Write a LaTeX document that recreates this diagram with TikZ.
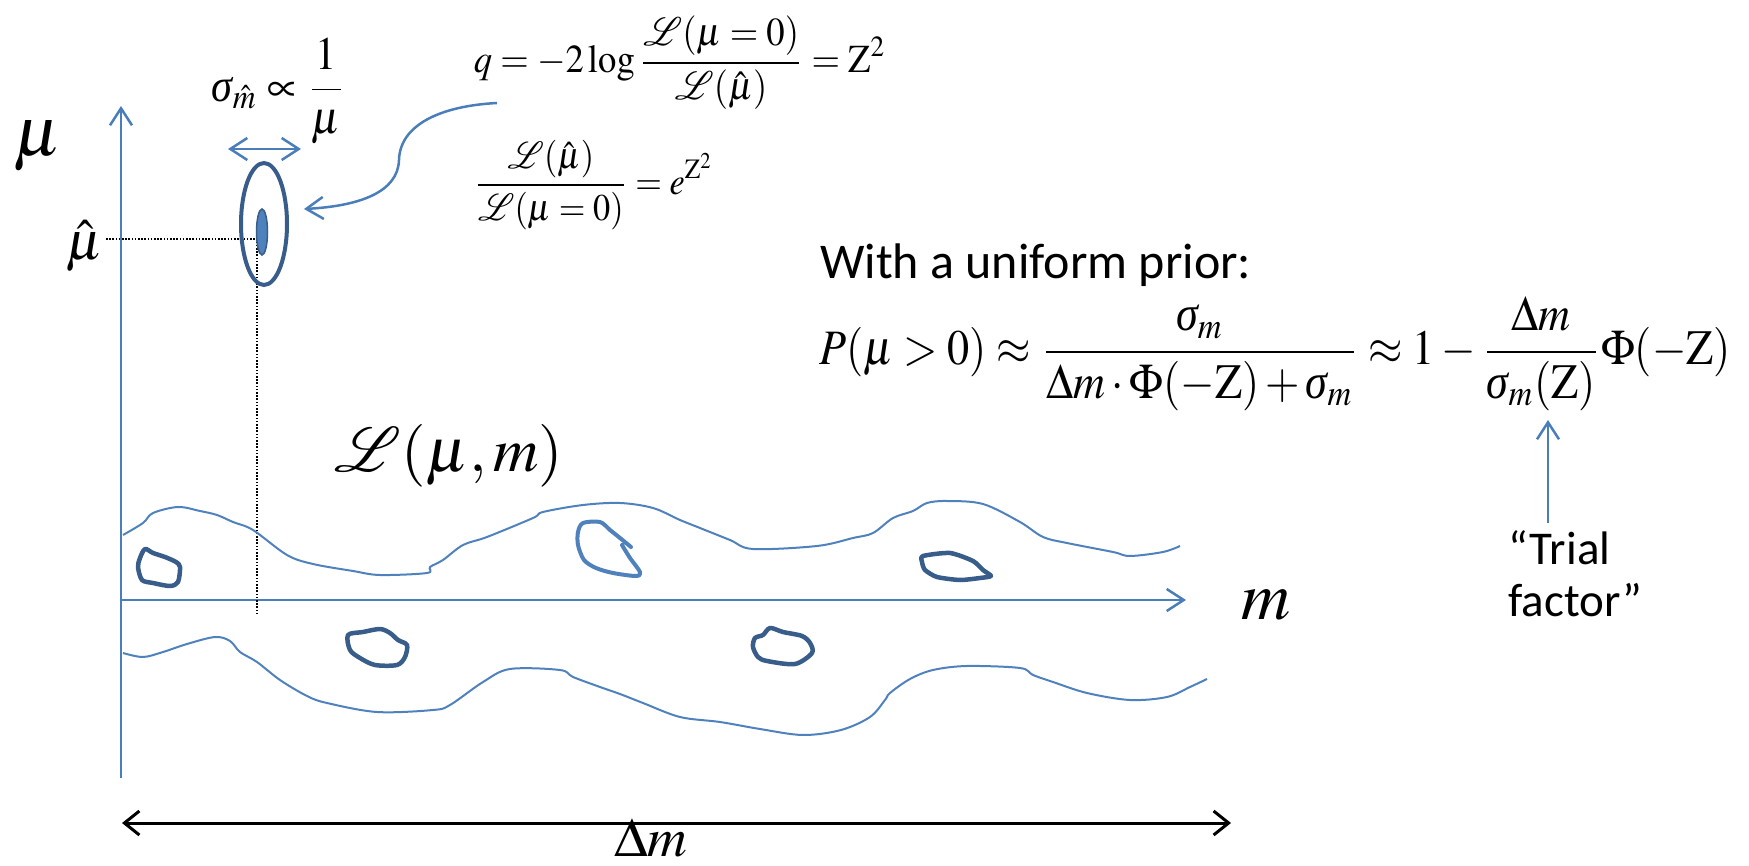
\documentclass[tikz,border=0pt]{standalone}
\usepackage{mathptmx}
\usepackage[no-math]{fontspec}
\newfontfamily\calibri{Carlito}
\newfontfamily\tnr{Liberation Serif}
\usetikzlibrary{arrows.meta}
\definecolor{lineblue}{HTML}{4A7EBB}
\definecolor{darkblue}{HTML}{385D8A}
\definecolor{fillblue}{HTML}{4F81BD}
\newcommand{\Lc}{\mathcal{L}}
\newcommand{\sg}{\mbox{\tnr\itshape σ}}
\begin{document}
\begin{tikzpicture}[x=1pt,y=-1pt,
  axis/.style={lineblue, line width=2.5pt},
  wave/.style={fillblue, line width=2pt, line join=round},
  blob/.style={darkblue, line width=4.5pt, line join=round},
  lblob/.style={fillblue, line width=4pt, line join=round, line cap=round},
  guide/.style={black, line width=1.6pt, dash pattern=on 1.6pt off 1.6pt},
  >={Straight Barb[length=17pt,width=22pt]},
  txt/.style={inner sep=0pt}]
\useasboundingbox (0,0) rectangle (1749,866);

% coordinates
\coordinate (O) at (121,600);
\coordinate (muTop) at (121,106);
\coordinate (muBot) at (121,778);
\coordinate (mEnd) at (1186,600);
\coordinate (dmL) at (122,823);
\coordinate (dmR) at (1231,823);
\coordinate (wL) at (228,149);
\coordinate (wR) at (301,149);
\coordinate (hatL) at (106,239);
\coordinate (hatC) at (257,239);
\coordinate (hatB) at (257,613);
\coordinate (cstart) at (497,103);
\coordinate (cend) at (304,209);
\coordinate (tfrom) at (1548,523);
\coordinate (tto) at (1548,420);

% axes
\draw[axis,->] (muBot) -- (muTop);
\draw[axis,->] (O) -- (mEnd);

% labels
\node (mulab) at (38,146) {\scalebox{7}{$\mu$}};
\node (muhat) at (85,246) {\scalebox{5.4}{$\hat\mu$}};
\node (mlab) at (1266,605) {\scalebox{6.8}{$m$}};
\node[inner sep=0pt] (dmlab) at (651,838) {\scalebox{5.5}{$\Delta m$}};
\node (Lmm) at (449,456) {\resizebox{228pt}{!}{$\Lc(\mu,m)$}};

% dotted guides
\draw[guide] (hatL) -- (hatC) -- (hatB);

% ellipses
\draw[darkblue, line width=4pt] (264,224) ellipse [x radius=23pt, y radius=61pt];
\filldraw[fill=fillblue, draw=darkblue, line width=1.5pt] (262,232) ellipse [x radius=5.5pt, y radius=23pt];

% width arrow
\draw[axis,<->] (wL) -- (wR);

% formulas
\node (sig) at (279,91) {\resizebox{134pt}{!}{\scalebox{1}[1.1]{$\displaystyle\sg_{\hat m}\propto\frac{1}{\mu}$}}};
\node (qeq) at (680,63) {\resizebox{412pt}{!}{\scalebox{1}[1.08]{$\displaystyle q=-2\log\frac{\Lc(\mu=0)}{\Lc(\hat\mu)}=\mathrm{Z}^2$}}};
\node (eeq) at (594,185) {\resizebox{240pt}{!}{\scalebox{1}[1.1]{$\displaystyle\frac{\Lc(\hat\mu)}{\Lc(\mu=0)}=e^{\mathrm{Z}^2}$}}};
\node[txt, anchor=base west, font=\calibri\fontsize{50}{60}\selectfont] (with) at (820,279) {With a uniform prior:};
\node (peq) at (1275,354) {\resizebox{911pt}{!}{\scalebox{1}[1.12]{$\displaystyle P(\mu>0)\approx\frac{\sg_m}{\Delta m\cdot\Phi(-\mathrm{Z})+\sg_m}\approx1-\frac{\Delta m}{\sg_m(\mathrm{Z})}\Phi(-\mathrm{Z})$}}};
\node[txt, anchor=north west, align=left, font=\calibri\fontsize{47}{52}\selectfont] (trial) at (1508,530) {“Trial\\factor”};

% curved arrow
\draw[axis,->] (cstart) .. controls (440,106) and (400,125) .. (399,160)
   .. controls (398,192) and (360,206) .. (cend);

% trial arrow
\draw[axis,->] (tfrom) -- (tto);

% delta m arrow
\draw[black, line width=3pt, {Straight Barb[length=15pt,width=24pt]}-{Straight Barb[length=15pt,width=24pt]}] (dmL) -- (dmR);

% waves
\draw[wave] plot[smooth, tension=0.55] coordinates {(123,535) (143,523) (153,513) (178,507) (200,511) (217,515) (233,522) (253,530) (287,555) (313,564) (353,571) (380,575) (427,573) (430,567) (443,560) (463,545) (487,537) (533,518) (543,512) (583,505) (620,503) (653,508) (680,520) (700,528) (730,540) (753,549) (817,546) (853,538) (873,533) (893,518) (913,511) (927,503) (947,501) (983,504) (1020,522) (1043,537) (1067,543) (1113,552) (1130,556) (1163,552) (1180,546)};
\draw[wave] plot[smooth, tension=0.55] coordinates {(123,653) (143,657) (163,652) (187,644) (215,637) (230,641) (240,652) (257,662) (280,680) (307,696) (327,703) (377,712) (433,710) (450,705) (483,682) (510,669) (560,670) (573,677) (600,687) (620,694) (643,703) (680,717) (720,722) (760,729) (803,735) (841,730) (870,717) (885,700) (890,693) (910,679) (933,670) (967,666) (1020,668) (1033,675) (1053,682) (1087,693) (1130,700) (1167,697) (1190,687) (1207,679)};

% blobs
\draw[blob] plot[smooth cycle, tension=0.5] coordinates {(145,549) (140,558) (138,567) (142,580) (153,583) (170,586) (178,582) (180,567) (176,562) (165,557) (153,553)};
\draw[blob] plot[smooth cycle, tension=0.5] coordinates {(348,635) (350,650) (360,658) (375,665) (397,665) (405,657) (407,645) (398,640) (390,633) (380,629) (363,632)};
\draw[lblob] plot[smooth, tension=0.5] coordinates {(631,547) (620,538) (610,530) (600,522) (583,523) (578,532) (578,545) (584,560) (596,568) (613,573) (636,576) (640,572) (630,558) (622,545)};
\draw[blob] plot[smooth cycle, tension=0.4] coordinates {(923,556) (950,553) (973,561) (983,570) (991,576) (980,578) (960,580) (937,577) (925,570) (922,562)};
\draw[blob] plot[smooth cycle, tension=0.5] coordinates {(770,628) (763,635) (755,638) (753,647) (758,657) (767,661) (795,664) (812,653) (810,643) (802,636) (783,632)};
\end{tikzpicture}
\end{document}
